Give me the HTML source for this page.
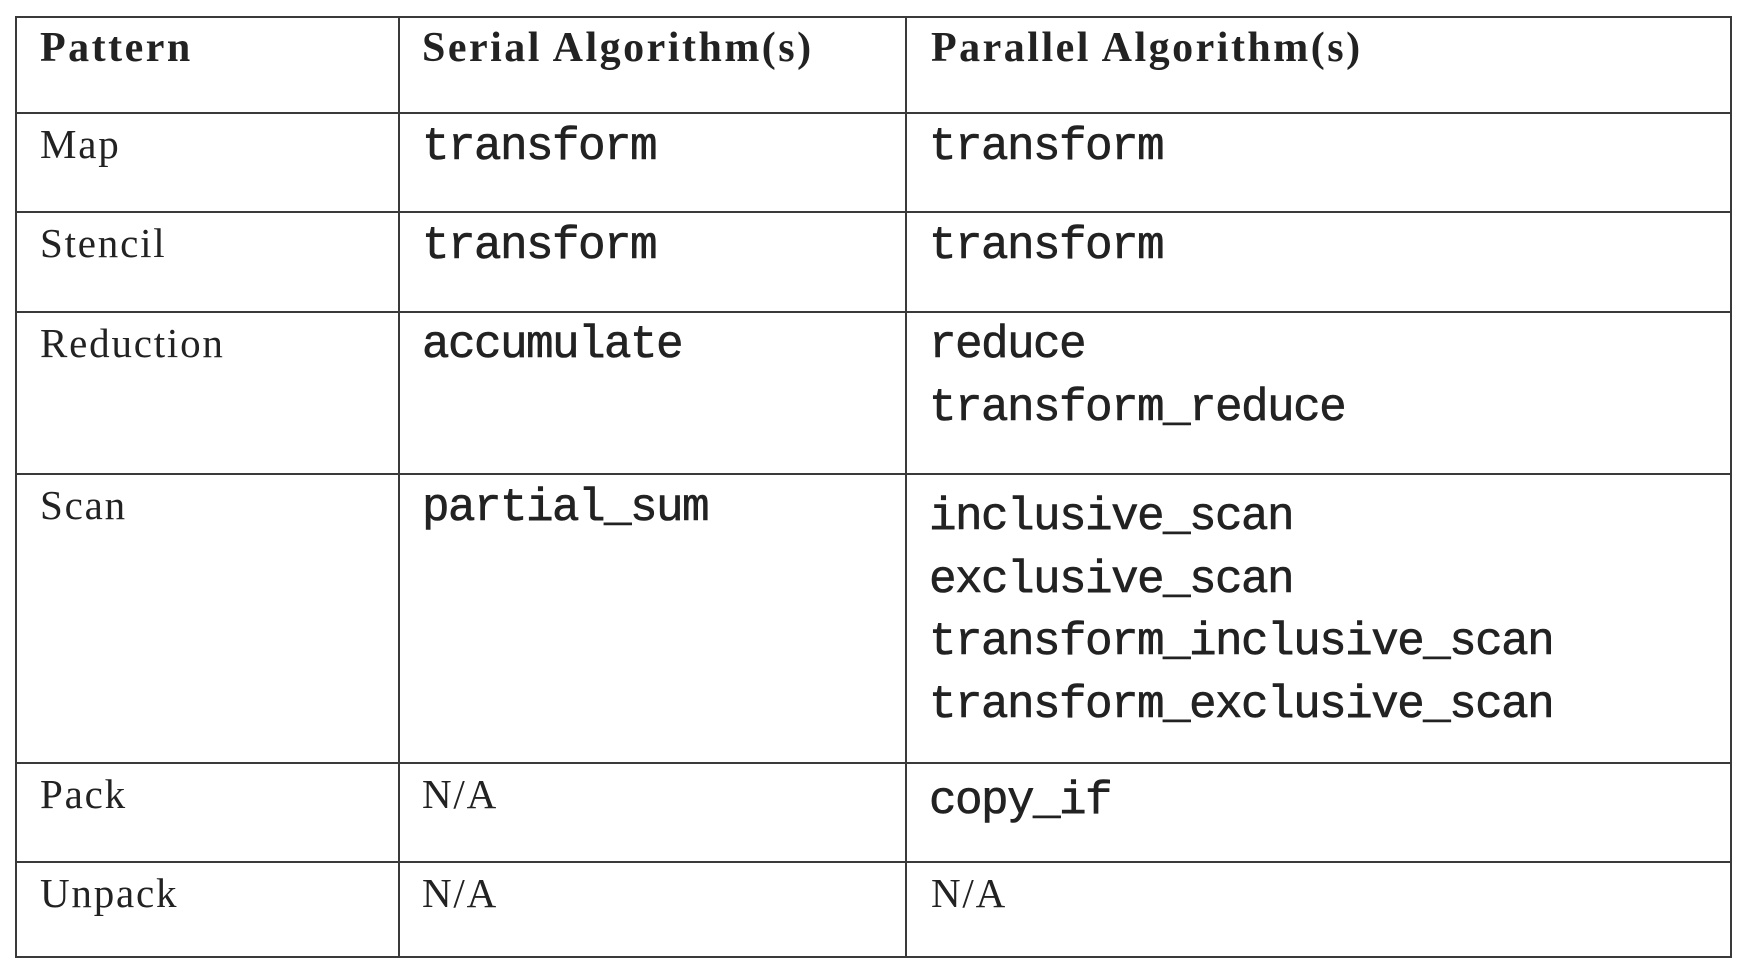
<!DOCTYPE html>
<html><head><meta charset="utf-8"><style>
body{margin:0;width:1748px;height:972px;background:#fff;position:relative;overflow:hidden;color:#222}
.h{position:absolute;background:#3a3a3a;height:2px}
.v{position:absolute;background:#3a3a3a;width:2px}
.t{position:absolute;white-space:pre;line-height:1}
.b{font:bold 42px "Liberation Serif",serif;letter-spacing:2.5px}
.s{font:41px "Liberation Serif",serif;letter-spacing:1.8px}
.m{font:46px "Liberation Mono",monospace;letter-spacing:-1.6px;line-height:62.6px;-webkit-text-stroke:0.6px #222}
</style></head><body>
<div class="h" style="left:16px;top:16px;width:1716px"></div>
<div class="h" style="left:16px;top:112px;width:1716px"></div>
<div class="h" style="left:16px;top:211px;width:1716px"></div>
<div class="h" style="left:16px;top:311px;width:1716px"></div>
<div class="h" style="left:16px;top:473px;width:1716px"></div>
<div class="h" style="left:16px;top:762px;width:1716px"></div>
<div class="h" style="left:16px;top:861px;width:1716px"></div>
<div class="h" style="left:16px;top:956px;width:1716px"></div>
<div class="v" style="left:15px;top:16px;height:942px"></div>
<div class="v" style="left:398px;top:16px;height:942px"></div>
<div class="v" style="left:905px;top:16px;height:942px"></div>
<div class="v" style="left:1730px;top:16px;height:942px"></div>

<div class="t b" style="left:40px;top:24px">Pattern</div>
<div class="t b" style="left:422px;top:24px">Serial Algorithm(s)</div>
<div class="t b" style="left:931px;top:24px">Parallel Algorithm(s)</div>

<div class="t s" style="left:40px;top:120px">Map</div>
<div class="t s" style="left:40px;top:219px">Stencil</div>
<div class="t s" style="left:40px;top:319px">Reduction</div>
<div class="t s" style="left:40px;top:481px">Scan</div>
<div class="t s" style="left:40px;top:770px">Pack</div>
<div class="t s" style="left:40px;top:869px">Unpack</div>

<div class="t m" style="left:422px;top:116px">transform</div>
<div class="t m" style="left:422px;top:215px">transform</div>
<div class="t m" style="left:422px;top:314px">accumulate</div>
<div class="t m" style="left:422px;top:477px">partial_sum</div>
<div class="t s" style="left:422px;top:770px">N/A</div>
<div class="t s" style="left:422px;top:869px">N/A</div>

<div class="t m" style="left:929px;top:116px">transform</div>
<div class="t m" style="left:929px;top:215px">transform</div>
<div class="t m" style="left:929px;top:314px">reduce
transform_reduce</div>
<div class="t m" style="left:929px;top:486px">inclusive_scan
exclusive_scan
transform_inclusive_scan
transform_exclusive_scan</div>
<div class="t m" style="left:929px;top:770px">copy_if</div>
<div class="t s" style="left:931px;top:869px">N/A</div>
</body></html>
